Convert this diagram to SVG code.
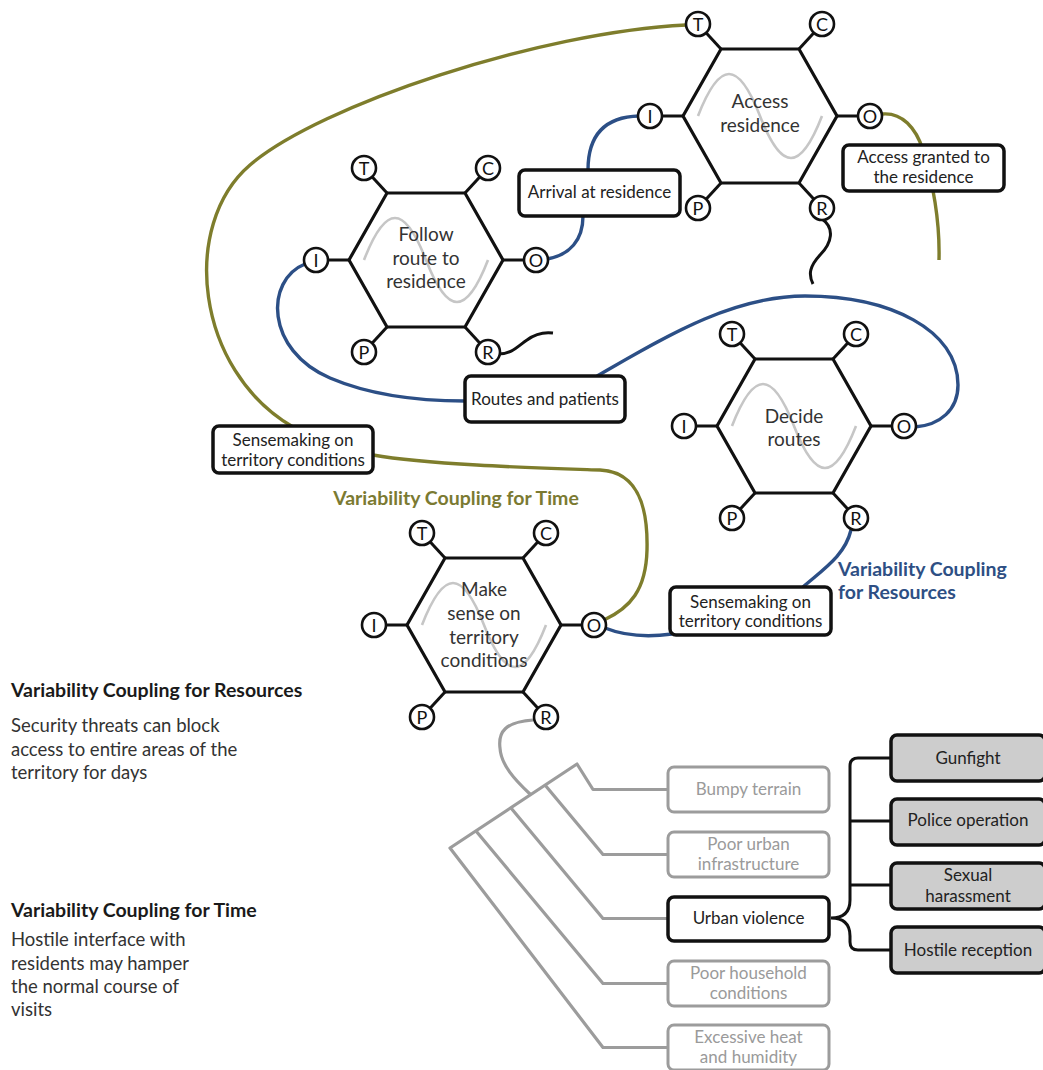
<svg xmlns="http://www.w3.org/2000/svg" xmlns:xlink="http://www.w3.org/1999/xlink" width="1043" height="1070" viewBox="0 0 1043 1070">
  <style>
    text { font-family: Lato, "Open Sans", "Liberation Sans", sans-serif; }
    .hex { fill: #fff; stroke: #111; stroke-width: 3.2; stroke-linejoin: miter; }
    .stub { stroke: #111; stroke-width: 3; }
    .port { fill: #fff; stroke: #111; stroke-width: 2.6; }
    .port-t { font-size: 18px; fill: #111; text-anchor: middle; }
    .wave { fill: none; stroke: #c6c6c6; stroke-width: 2.6; }
    .fn-label { font-size: 19px; fill: #333; text-anchor: middle; }
    .box { fill: #fff; stroke: #111; stroke-width: 3.5; }
    .box-t { font-size: 17px; fill: #222; text-anchor: middle; }
    .gbox { fill: #fff; stroke: #9c9c9c; stroke-width: 3; }
    .gbox-t { font-size: 17px; fill: #9a9a9a; text-anchor: middle; }
    .dbox { fill: #cdcdcd; stroke: #111; stroke-width: 3.5; }
    .blue { fill: none; stroke: #2c4f86; stroke-width: 3.4; }
    .olive { fill: none; stroke: #7e7d2c; stroke-width: 3.4; }
    .black { fill: none; stroke: #111; stroke-width: 3; }
    .grey { fill: none; stroke: #9c9c9c; stroke-width: 3.2; stroke-linejoin: round; }
    .head { font-size: 19.5px; font-weight: bold; fill: #1a1a1a; }
    .body { font-size: 18.5px; fill: #333; }
  </style>
  <defs>
    <!-- FRAM function: hexagon with its six aspects T C I O P R -->
    <g id="fn-shape">
      <line class="stub" x1="-62" y1="-92" x2="-39" y2="-67"/>
      <line class="stub" x1="62" y1="-92" x2="39" y2="-67"/>
      <line class="stub" x1="-110" y1="0" x2="-77" y2="0"/>
      <line class="stub" x1="110" y1="0" x2="77" y2="0"/>
      <line class="stub" x1="-62" y1="92" x2="-39" y2="67"/>
      <line class="stub" x1="62" y1="92" x2="39" y2="67"/>
      <polygon class="hex" points="-77,0 -39,-67 39,-67 77,0 39,67 -39,67"/>
      <path class="wave" d="M -62,0 C -40.3,-56 -21.7,-56 0,0 C 21.7,56 40.3,56 62,0"/>
      <circle class="port" cx="-62" cy="-92" r="12"/>
      <circle class="port" cx="62" cy="-92" r="12"/>
      <circle class="port" cx="-110" cy="0" r="12"/>
      <circle class="port" cx="110" cy="0" r="12"/>
      <circle class="port" cx="-62" cy="92" r="12"/>
      <circle class="port" cx="62" cy="92" r="12"/>
      <text class="port-t" x="-62" y="-85.5">T</text>
      <text class="port-t" x="62" y="-85.5">C</text>
      <text class="port-t" x="-110" y="6.5">I</text>
      <text class="port-t" x="110" y="6.5">O</text>
      <text class="port-t" x="-62" y="98.5">P</text>
      <text class="port-t" x="62" y="98.5">R</text>
    </g>
  </defs>

  <!-- couplings between functions -->
  <g id="connectors">
    <!-- time coupling (olive) -->
    <path class="olive" d="M 686,25 C 540,32 320,105 250,165 C 180,225 195,370 293,427"/>
    <path class="olive" d="M 373,455 C 430,465 540,468 600,470 C 640,472 648,510 647,550 C 646,590 630,608 604,620"/>
    <path class="olive" d="M 882,114 C 902,112 916,128 923,150 C 932,180 940,220 939,260"/>
    <!-- resource coupling (blue) -->
    <path class="blue" d="M 547,259 C 570,255 583,240 583,216"/>
    <path class="blue" d="M 588,170 C 588,140 600,117 639,116"/>
    <path class="blue" d="M 305,264 C 265,280 265,350 330,378 C 370,395 420,401 465,401"/>
    <path class="blue" d="M 597,376 C 660,340 730,296 805,296 C 890,296 958,330 958,385 C 958,410 940,425 915,427"/>
    <path class="blue" d="M 851,530 C 845,555 825,568 803,587"/>
    <path class="blue" d="M 605,628 C 625,636 650,637 672,634"/>
    <!-- loose resource ends -->
    <path class="black" d="M 498,354 C 512,354 518,346 527,340 C 535,334 545,332 553,333"/>
    <path class="black" d="M 822,219 C 835,228 832,243 820,255 C 810,266 808,274 813,284"/>
    <!-- resource breakdown tree -->
    <path class="grey" d="M 533,720 C 505,722 498,732 500,748 C 501,765 515,780 530,794"/>
    <path class="grey" d="M 668,789.5 L 593,789.5 L 577,764 L 450,848 L 603,1047.5 L 668,1047.5"/>
    <path class="grey" d="M 545,785 L 603,854.5 L 668,854.5"/>
    <path class="grey" d="M 511,808 L 603,918.5 L 668,918.5"/>
    <path class="grey" d="M 476,831 L 603,983.5 L 668,983.5"/>
    <!-- urban violence bracket -->
    <path class="black" stroke-width="3.5" d="M 891,758 L 858,758 Q 850,758 850,766 L 850,900 Q 850,918 831,918 Q 850,918 850,936 L 850,942 Q 850,950 858,950 L 891,950"/>
    <path class="black" stroke-width="3.5" d="M 850,821 H 891 M 850,885 H 891"/>
  </g>

  <!-- functions -->
  <g id="fn-access" transform="translate(760,116)">
    <use href="#fn-shape" xlink:href="#fn-shape"/>
    <text class="fn-label" y="-8">Access</text>
    <text class="fn-label" y="15.5">residence</text>
  </g>
  <g id="fn-follow" transform="translate(426,260)">
    <use href="#fn-shape" xlink:href="#fn-shape"/>
    <text class="fn-label" y="-19.5">Follow</text>
    <text class="fn-label" y="4.5">route to</text>
    <text class="fn-label" y="28">residence</text>
  </g>
  <g id="fn-decide" transform="translate(794,426)">
    <use href="#fn-shape" xlink:href="#fn-shape"/>
    <text class="fn-label" y="-3">Decide</text>
    <text class="fn-label" y="20">routes</text>
  </g>
  <g id="fn-make" transform="translate(484,625)">
    <use href="#fn-shape" xlink:href="#fn-shape"/>
    <text class="fn-label" y="-29">Make</text>
    <text class="fn-label" y="-5">sense on</text>
    <text class="fn-label" y="19">territory</text>
    <text class="fn-label" y="42">conditions</text>
  </g>

  <!-- coupling labels -->
  <g id="lbl-arrival">
    <rect class="box" x="519" y="170" width="161" height="46" rx="6"/>
    <text class="box-t" x="599.5" y="198">Arrival at residence</text>
  </g>
  <g id="lbl-granted">
    <rect class="box" x="843" y="145" width="161" height="46" rx="6"/>
    <text class="box-t" x="923.5" y="163">Access granted to</text>
    <text class="box-t" x="923.5" y="183">the residence</text>
  </g>
  <g id="lbl-routes">
    <rect class="box" x="465" y="376" width="160" height="46" rx="6"/>
    <text class="box-t" x="545" y="405">Routes and patients</text>
  </g>
  <g id="lbl-sense-left">
    <rect class="box" x="213" y="426" width="160" height="47" rx="6"/>
    <text class="box-t" x="293" y="446">Sensemaking on</text>
    <text class="box-t" x="293" y="466">territory conditions</text>
  </g>
  <g id="lbl-sense-right">
    <rect class="box" x="670" y="587" width="161" height="48" rx="6"/>
    <text class="box-t" x="750.5" y="608">Sensemaking on</text>
    <text class="box-t" x="750.5" y="627">territory conditions</text>
  </g>

  <!-- coupling type captions -->
  <g id="cap-time">
    <text class="head" x="456" y="505" text-anchor="middle" style="fill:#7b7a32">Variability Coupling for Time</text>
  </g>
  <g id="cap-resources">
    <text class="head" x="838" y="576" style="fill:#2e4f84">Variability Coupling</text>
    <text class="head" x="838" y="599" style="fill:#2e4f84">for Resources</text>
  </g>

  <!-- resource factors -->
  <g id="rf-bumpy">
    <rect class="gbox" x="668" y="767" width="161" height="45" rx="6"/>
    <text class="gbox-t" x="748.5" y="795">Bumpy terrain</text>
  </g>
  <g id="rf-infra">
    <rect class="gbox" x="668" y="832" width="161" height="45" rx="6"/>
    <text class="gbox-t" x="748.5" y="850">Poor urban</text>
    <text class="gbox-t" x="748.5" y="870">infrastructure</text>
  </g>
  <g id="rf-violence">
    <rect class="box" x="668" y="897" width="161" height="44" rx="6"/>
    <text class="box-t" x="748.5" y="924">Urban violence</text>
  </g>
  <g id="rf-household">
    <rect class="gbox" x="668" y="961" width="161" height="45" rx="6"/>
    <text class="gbox-t" x="748.5" y="979">Poor household</text>
    <text class="gbox-t" x="748.5" y="999">conditions</text>
  </g>
  <g id="rf-heat">
    <rect class="gbox" x="668" y="1025" width="161" height="45" rx="6"/>
    <text class="gbox-t" x="748.5" y="1043">Excessive heat</text>
    <text class="gbox-t" x="748.5" y="1063">and humidity</text>
  </g>
  <g id="rf-gunfight">
    <rect class="dbox" x="891" y="735" width="154" height="46" rx="6"/>
    <text class="box-t" x="968" y="764">Gunfight</text>
  </g>
  <g id="rf-police">
    <rect class="dbox" x="891" y="799" width="154" height="46" rx="6"/>
    <text class="box-t" x="968" y="826">Police operation</text>
  </g>
  <g id="rf-harassment">
    <rect class="dbox" x="891" y="863" width="154" height="46" rx="6"/>
    <text class="box-t" x="968" y="881">Sexual</text>
    <text class="box-t" x="968" y="902">harassment</text>
  </g>
  <g id="rf-hostile">
    <rect class="dbox" x="891" y="927" width="154" height="46" rx="6"/>
    <text class="box-t" x="968" y="956">Hostile reception</text>
  </g>

  <!-- notes -->
  <g id="note-resources">
    <text class="head" x="11" y="697">Variability Coupling for Resources</text>
    <text class="body" x="11" y="731.5">Security threats can block</text>
    <text class="body" x="11" y="755.5">access to entire areas of the</text>
    <text class="body" x="11" y="778.5">territory for days</text>
  </g>
  <g id="note-time">
    <text class="head" x="11" y="916.5">Variability Coupling for Time</text>
    <text class="body" x="11" y="946">Hostile interface with</text>
    <text class="body" x="11" y="969.5">residents may hamper</text>
    <text class="body" x="11" y="993">the normal course of</text>
    <text class="body" x="11" y="1016">visits</text>
  </g>
</svg>
